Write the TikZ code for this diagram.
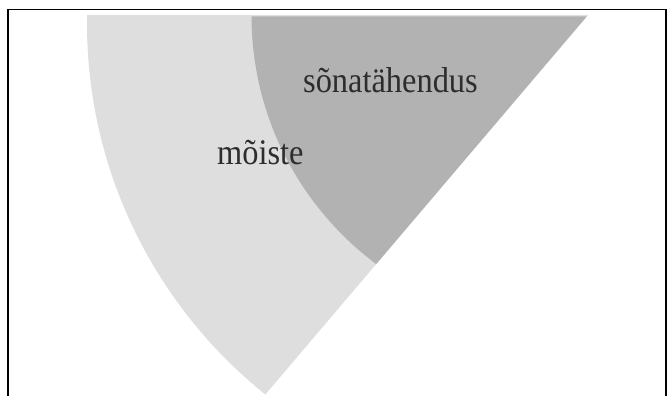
\documentclass[tikz,border=0pt]{standalone}
\usepackage{fontspec}
\setmainfont{Liberation Serif}
\definecolor{lightfill}{RGB}{222,222,222}
\definecolor{darkfill}{RGB}{178,178,178}
\definecolor{labeltext}{RGB}{45,45,45}
\begin{document}
\begin{tikzpicture}[x=1pt,y=1pt,
  frameline/.style={draw=black,line width=1.6pt},
  setlabel/.style={font=\fontsize{36}{40}\selectfont,text=labeltext,inner sep=0pt,anchor=base west,xscale=0.9}]
\useasboundingbox (0,0) rectangle (667,396);
% outer sector (moiste)
\begin{scope}
  \clip (0,381) -- (588,381) -- (247,-20) -- (0,-20) -- cycle;
  \fill[lightfill] (563,373) circle[radius=476];
\end{scope}
% inner sector (sonatahendus)
\begin{scope}
  \clip (0,379.5) -- (586.7,379.5) -- (247,-20) -- (0,-20) -- cycle;
  \fill[darkfill] (561.5,380.5) circle[radius=310];
\end{scope}
% frame
\draw[frameline] (8.2,0) -- (8.2,386.3) -- (666,386.3) -- (666,0);
% labels
\node[setlabel] (sona) at (303,303) {sõnatähendus};
\node[setlabel] (moiste) at (217,231) {mõiste};
\end{tikzpicture}
\end{document}
